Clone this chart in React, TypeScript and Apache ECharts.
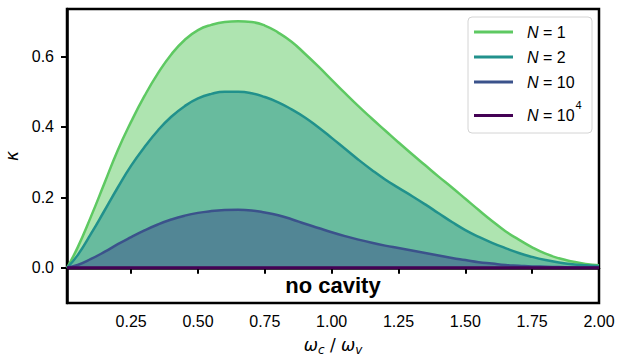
import React, { useEffect, useRef } from "react";
import * as echarts from "echarts";

const xValues = [0.01, 0.05, 0.1, 0.15, 0.2, 0.25, 0.3, 0.35, 0.4, 0.45, 0.5, 0.55, 0.6, 0.65, 0.7, 0.75, 0.8, 0.85, 0.9, 0.95, 1.0, 1.05, 1.1, 1.15, 1.2, 1.25, 1.3, 1.35, 1.4, 1.45, 1.5, 1.55, 1.6, 1.65, 1.7, 1.75, 1.8, 1.85, 1.9, 1.95, 2.0];
const kappaN1 = [0.0, 0.058, 0.146, 0.24, 0.334, 0.415, 0.488, 0.552, 0.606, 0.647, 0.675, 0.69, 0.698, 0.7, 0.698, 0.688, 0.668, 0.642, 0.608, 0.572, 0.534, 0.496, 0.459, 0.424, 0.39, 0.356, 0.323, 0.291, 0.259, 0.228, 0.196, 0.164, 0.133, 0.104, 0.08, 0.058, 0.04, 0.027, 0.018, 0.011, 0.007];
const kappaN2 = [0.0, 0.036, 0.097, 0.162, 0.228, 0.29, 0.343, 0.39, 0.429, 0.459, 0.481, 0.494, 0.5, 0.5, 0.496, 0.485, 0.47, 0.45, 0.427, 0.399, 0.369, 0.338, 0.307, 0.278, 0.251, 0.227, 0.204, 0.18, 0.155, 0.13, 0.107, 0.088, 0.071, 0.056, 0.042, 0.031, 0.022, 0.015, 0.01, 0.007, 0.005];
const kappaN10 = [0.0, 0.008, 0.025, 0.045, 0.067, 0.087, 0.106, 0.123, 0.137, 0.148, 0.156, 0.161, 0.164, 0.165, 0.163, 0.157, 0.149, 0.138, 0.125, 0.113, 0.101, 0.09, 0.08, 0.071, 0.063, 0.056, 0.049, 0.042, 0.035, 0.028, 0.022, 0.016, 0.012, 0.008, 0.006, 0.004, 0.003, 0.002, 0.001, 0.001, 0.001];
const kappaN10000 = [0, 0, 0, 0, 0, 0, 0, 0, 0, 0, 0, 0, 0, 0, 0, 0, 0, 0, 0, 0, 0, 0, 0, 0, 0, 0, 0, 0, 0, 0, 0, 0, 0, 0, 0, 0, 0, 0, 0, 0, 0];

const seriesNames = ["N=1", "N=2", "N=10", "N=10^4"];
const seriesColors = ["#5ec962", "#21918c", "#3b528b", "#440154"];
const seriesValues = [kappaN1, kappaN2, kappaN10, kappaN10000];
const legendLabels = [
  "{sp| }{i|N}{t| = 1}",
  "{sp| }{i|N}{t| = 2}",
  "{sp| }{i|N}{t| = 10}",
  "{sp| }{i|N}{t| = 10}{sup|4}",
];

const xTicks = [0.25, 0.5, 0.75, 1.0, 1.25, 1.5, 1.75, 2.0];
const yTicks = [0.0, 0.2, 0.4, 0.6];

const FONT = "Liberation Sans, Arial, sans-serif";

export default function App() {
  const ref = useRef<HTMLDivElement>(null);
  useEffect(() => {
    if (!ref.current) return;
    const chart = echarts.init(ref.current, null, { renderer: "svg" });
    const series = seriesNames.map((name, k) => ({
      name,
      type: "line",
      data: xValues.map((x, i) => [x, seriesValues[k][i]]),
      smooth: 0.5,
      symbol: "none",
      showSymbol: false,
      color: seriesColors[k],
      lineStyle: { width: k === 3 ? 3 : 2.5, color: seriesColors[k] },
      areaStyle: { color: seriesColors[k], opacity: 0.5 },
      z: 2 + k,
    }));
    chart.setOption({
      animation: false,
      backgroundColor: "#ffffff",
      grid: {
        left: 67,
        right: 21,
        top: 9,
        bottom: 57,
        show: true,
        borderColor: "#000",
        borderWidth: 2.5,
        outerBoundsMode: "none",
        containLabel: false,
      },
      xAxis: {
        type: "value",
        min: 0.01,
        max: 2.0,
        name: "{w|ω}{s|c}{m| / }{w|ω}{s|v}",
        nameLocation: "middle",
        nameGap: 31,
        nameTextStyle: {
          rich: {
            w: { fontFamily: "DejaVu Sans", fontStyle: "italic", fontSize: 17, color: "#000" },
            s: { fontFamily: "DejaVu Sans", fontStyle: "italic", fontSize: 12, color: "#000", padding: [10, 0, 0, 0] },
            m: { fontFamily: "DejaVu Sans", fontSize: 17, color: "#000" },
          },
        },
        axisLine: { show: true, lineStyle: { color: "#000", width: 2.5 } },
        axisTick: { show: true, inside: false, length: 6, lineStyle: { color: "#000", width: 2 }, customValues: xTicks },
        axisLabel: {
          customValues: xTicks,
          margin: 10,
          fontFamily: FONT,
          fontSize: 16,
          color: "#000",
          formatter: (v: number) => v.toFixed(2),
        },
        splitLine: { show: false },
      },
      yAxis: {
        type: "value",
        min: -0.1,
        max: 0.735,
        name: "κ",
        nameLocation: "middle",
        nameGap: 47,
        nameTextStyle: { fontFamily: "DejaVu Sans", fontStyle: "italic", fontSize: 17, color: "#000" },
        axisLine: { show: true, lineStyle: { color: "#000", width: 2.5 } },
        axisTick: { show: true, inside: false, length: 6, lineStyle: { color: "#000", width: 2 }, customValues: yTicks },
        axisLabel: {
          customValues: yTicks,
          margin: 13,
          fontFamily: FONT,
          fontSize: 16,
          color: "#000",
          formatter: (v: number) => v.toFixed(1),
        },
        splitLine: { show: false },
      },
      legend: {
        orient: "vertical",
        left: 468,
        top: 17,
        padding: [7, 6, 0, 6],
        icon: "rect",
        itemWidth: 39,
        itemHeight: 3,
        itemGap: 9,
        data: seriesNames,
        formatter: (name: string) => legendLabels[seriesNames.indexOf(name)],
        textStyle: {
          fontFamily: FONT,
          fontSize: 16,
          color: "#000",
          rich: {
            sp: { width: 9, fontSize: 16, lineHeight: 16 },
            i: { fontFamily: FONT, fontStyle: "italic", fontSize: 16, lineHeight: 16, color: "#000" },
            t: { fontFamily: FONT, fontSize: 16, lineHeight: 16, color: "#000" },
            sup: { fontFamily: FONT, fontSize: 11, lineHeight: 14, color: "#000", padding: [0, 0, 22, 1] },
          },
        },
      },
      graphic: [
        {
          type: "rect",
          shape: { x: 468, y: 17, width: 124, height: 116, r: 4 },
          style: { fill: "rgba(255,255,255,0.85)", stroke: "#d4d4d4", lineWidth: 1 },
          z: 3,
        },
        {
          type: "text",
          x: 333,
          y: 285,
          style: {
            text: "no cavity",
            fontFamily: FONT,
            fontWeight: "bold",
            fontSize: 22,
            fill: "#000",
            textAlign: "center",
            textVerticalAlign: "middle",
          },
          z: 10,
        },
      ],
      series,
    });
    return () => chart.dispose();
  }, []);
  return <div ref={ref} style={{ width: 620, height: 360, position: "absolute", left: 0, top: 0 }} />;
}
